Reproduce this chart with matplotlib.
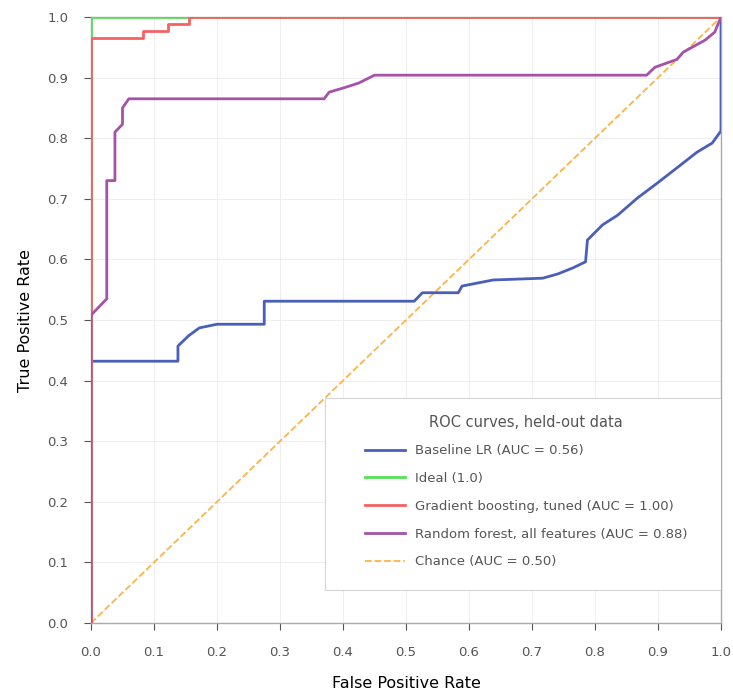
import numpy as np
import matplotlib
matplotlib.use("Agg")
import matplotlib.pyplot as plt
from matplotlib.patches import Rectangle

# ROC curves (false positive rate, true positive rate)
fpr_base = [0.0, 0.0, 0.138, 0.138, 0.155, 0.172, 0.200, 0.275, 0.275, 0.513, 0.526,
            0.583, 0.589, 0.638, 0.717, 0.741, 0.765, 0.785, 0.788, 0.812, 0.836,
            0.867, 0.899, 0.930, 0.962, 0.986, 1.0, 1.0]
tpr_base = [0.0, 0.432, 0.432, 0.457, 0.474, 0.487, 0.493, 0.493, 0.531, 0.531, 0.545,
            0.545, 0.556, 0.566, 0.569, 0.576, 0.586, 0.596, 0.632, 0.657, 0.673,
            0.701, 0.726, 0.751, 0.777, 0.792, 0.812, 1.0]

fpr_ideal = [0.0, 0.0, 1.0]
tpr_ideal = [0.0, 1.0, 1.0]

fpr_gb = [0.0, 0.0, 0.083, 0.083, 0.122, 0.122, 0.156, 0.156, 1.0]
tpr_gb = [0.0, 0.965, 0.965, 0.977, 0.977, 0.988, 0.988, 1.0, 1.0]

fpr_rf = [0.0, 0.0, 0.025, 0.025, 0.038, 0.038, 0.050, 0.050, 0.060, 0.370, 0.378,
          0.401, 0.425, 0.450, 0.882, 0.895, 0.930, 0.940, 0.975, 0.990, 1.0]
tpr_rf = [0.0, 0.508, 0.535, 0.730, 0.730, 0.810, 0.823, 0.850, 0.865, 0.865, 0.876,
          0.883, 0.891, 0.904, 0.904, 0.917, 0.930, 0.942, 0.962, 0.975, 1.0]

chance = [0.0, 1.0]


def auc(x, y):
    return np.trapezoid(y, x)


fig = plt.figure(figsize=(7.33, 6.97), dpi=100)
# axes box: x 91..721 px, y 17..623 px
ax = fig.add_axes([91 / 733, 1 - 623 / 697, 630 / 733, 606 / 697])

ax.plot(fpr_base, tpr_base, color="#4a5fb8", lw=2, zorder=3.2,
        label=f"Baseline LR (AUC = {auc(fpr_base, tpr_base):.2f})")
ax.plot(fpr_ideal, tpr_ideal, color="#55e055", lw=2, zorder=3.0,
        label="Ideal (1.0)")
ax.plot(fpr_gb, tpr_gb, color="#f56262", lw=2, zorder=3.3,
        label=f"Gradient boosting, tuned (AUC = {auc(fpr_gb, tpr_gb):.2f})")
ax.plot(fpr_rf, tpr_rf, color="#a552a8", lw=2, zorder=3.4,
        label=f"Random forest, all features (AUC = {auc(fpr_rf, tpr_rf):.2f})")
ax.plot(chance, chance, color="#ffb347", lw=1.3, ls="--", zorder=3.1,
        label="Chance (AUC = 0.50)")

ax.set_xlim(0, 1)
ax.set_ylim(0, 1)
ax.set_xticks(np.arange(0, 1.01, 0.1))
ax.set_yticks(np.arange(0, 1.01, 0.1))
ax.set_xlabel("False Positive Rate", fontsize=11.5, labelpad=12)
ax.set_ylabel("True Positive Rate", fontsize=11.5, labelpad=10)
ax.tick_params(colors="#555555", labelsize=9.5, length=5, pad=11.5)

ax.grid(True, color="#eeeeee", lw=0.7)
ax.set_axisbelow(True)
for s in ax.spines.values():
    s.set_color("#aaaaaa")
    s.set_linewidth(1.0)

# legend frame (drawn separately so it can carry the wide side padding)
ax.add_patch(Rectangle((0.371, 0.054), 0.629, 0.318, transform=ax.transAxes,
                       facecolor="white", edgecolor="#d5d5d5", lw=0.8, zorder=4))

leg = ax.legend(loc="upper left", bbox_to_anchor=(0.435, 0.344), borderaxespad=0,
                fontsize=9.5, title="ROC curves, held-out data", title_fontsize=10.5,
                labelspacing=1.12, handlelength=3.0, handletextpad=0.75,
                borderpad=0, frameon=False)
leg.set_zorder(5)
for t in leg.get_texts():
    t.set_color("#555555")
leg.get_title().set_color("#555555")

fig.savefig("out.png", dpi=100)
